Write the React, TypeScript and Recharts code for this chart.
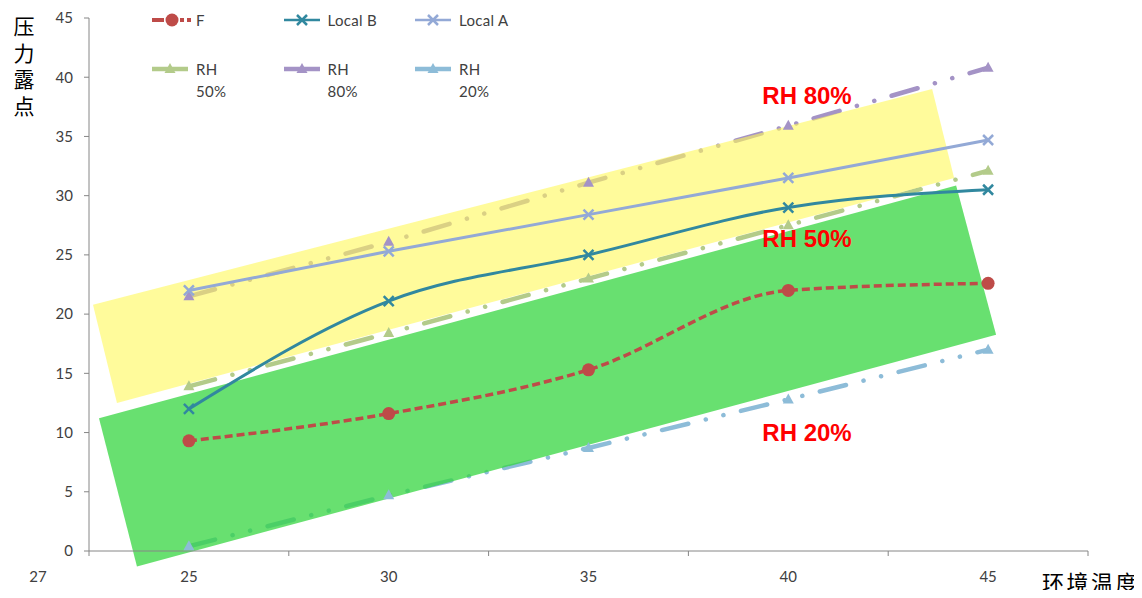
import { LineChart, Line, XAxis, YAxis, Legend, ReferenceArea } from "recharts";

// ambient temperature categories and dew point readings
const temps = [25, 30, 35, 40, 45];
const fValues = [9.3, 11.6, 15.3, 22.0, 22.6];
const localBValues = [12.0, 21.1, 25.0, 29.0, 30.5];
const localAValues = [22.0, 25.3, 28.4, 31.5, 34.7];
const rh50Values = [13.9, 18.4, 23.0, 27.5, 32.1];
const rh80Values = [21.5, 26.1, 31.1, 35.9, 40.8];
const rh20Values = [0.4, 4.7, 8.7, 12.8, 17.0];
const yTicks = [0, 5, 10, 15, 20, 25, 30, 35, 40, 45];

// tilted zones, corners given as [temperature, dew point]
const yellowZone = [[22.6, 20.8], [43.6, 39.0], [44.15, 31.5], [23.2, 12.5]];
const greenZone = [[22.75, 11.2], [44.2, 30.85], [45.2, 18.25], [23.7, -1.3]];
const zoneLabels = [
    { text: "RH 80%", t: 39.35, v: 38.4 },
    { text: "RH 50%", t: 39.35, v: 26.3 },
    { text: "RH 20%", t: 39.35, v: 10.0 },
];

const HALF = 2.5;
const xDomain = [temps[0] - HALF, temps[temps.length - 1] + HALF];
const boundaries = [...temps.map((t) => t - HALF), temps[temps.length - 1] + HALF];
const xTicks = [...boundaries, ...temps].sort((a, b) => a - b);

const data = temps.map((t, i) => ({
    t,
    F: fValues[i],
    "Local B": localBValues[i],
    "Local A": localAValues[i],
    "RH 50%": rh50Values[i],
    "RH 80%": rh80Values[i],
    "RH 20%": rh20Values[i],
}));

const FONT = "Lato, 'Open Sans', sans-serif";
const AXIS = "#868686";
const TEXT = "#404040";

const COLORS = {
    F: "#BE4B48",
    localB: "#31889F",
    localA: "#93A9D6",
    rh50: "#B3CB8A",
    rh80: "#A493C6",
    rh20: "#8DBCD8",
};

const RH_DASH = "27 18 0.1 18 0.1 18";

type Marker = "circle" | "cross" | "triangle";

function drawMarker(kind: Marker, cx: number, cy: number, color: string, key?: string) {
    if (kind === "circle") return <circle key={key} cx={cx} cy={cy} r={6.5} fill={color} />;
    if (kind === "cross")
        return (
            <path
                key={key}
                d={`M${cx - 5},${cy - 5}L${cx + 5},${cy + 5}M${cx - 5},${cy + 5}L${cx + 5},${cy - 5}`}
                stroke={color}
                strokeWidth={2.5}
                fill="none"
            />
        );
    return <path key={key} d={`M${cx},${cy - 6}L${cx + 5.5},${cy + 4}L${cx - 5.5},${cy + 4}Z`} fill={color} />;
}

const dotFor = (kind: Marker, color: string) => (p: any) =>
    drawMarker(kind, p.cx, p.cy, color, `${kind}-${p.index}-${color}`);

const legendItems: { name: string; color: string; marker: Marker; dash?: string; width: number }[] = [
    { name: "F", color: COLORS.F, marker: "circle", dash: "8 4", width: 3.5 },
    { name: "Local B", color: COLORS.localB, marker: "cross", width: 2.5 },
    { name: "Local A", color: COLORS.localA, marker: "cross", width: 2.5 },
    { name: "RH 50%", color: COLORS.rh50, marker: "triangle", width: 4.5 },
    { name: "RH 80%", color: COLORS.rh80, marker: "triangle", width: 4.5 },
    { name: "RH 20%", color: COLORS.rh20, marker: "triangle", width: 4.5 },
];

function LegendContent() {
    return (
        <div style={{ position: "relative", height: 0 }}>
            {legendItems.map((it, i) => {
                const col = i % 3;
                const row = Math.floor(i / 3);
                return (
                    <div
                        key={it.name}
                        style={{
                            position: "absolute",
                            left: col * 131.5,
                            top: row * 49,
                            display: "flex",
                            alignItems: "flex-start",
                            fontFamily: FONT,
                            fontSize: 15,
                            letterSpacing: 0.3,
                            color: TEXT,
                            lineHeight: "22px",
                        }}
                    >
                        <svg width={44} height={22} style={{ display: "block" }}>
                            {it.dash ? (
                                <g>
                                    <line x1={2} x2={14} y1={11} y2={11} stroke={it.color} strokeWidth={4} />
                                    <line x1={30} x2={42} y1={11} y2={11} stroke={it.color} strokeWidth={4} strokeDasharray="4 3" />
                                </g>
                            ) : (
                                <line x1={2} x2={38} y1={11} y2={11} stroke={it.color} strokeWidth={it.width} />
                            )}
                            {drawMarker(it.marker, it.dash ? 22 : 20, 11, it.color)}
                        </svg>
                        <span style={{ marginLeft: 2, width: row === 1 ? 38 : 72, textAlign: "left" }}>
                            {it.name}
                        </span>
                    </div>
                );
            })}
        </div>
    );
}

function XTick(props: any) {
    const { x, y, payload } = props;
    const v = payload.value;
    if (temps.includes(v)) {
        return (
            <text x={x} y={y + 31} textAnchor="middle" fontFamily={FONT} fontSize={15} fill={TEXT}>
                {v}
            </text>
        );
    }
    return <line x1={x} x2={x} y1={y} y2={y + 5} stroke={AXIS} />;
}

// zones drawn over the full plot rectangle, mapped from data units to pixels
function Zones(p: any) {
    const { x, y, width, height } = p;
    const px = (t: number) => x + ((t - xDomain[0]) / (xDomain[1] - xDomain[0])) * width;
    const py = (v: number) => y + height - (v / 45) * height;
    const pts = (poly: number[][]) => poly.map(([t, v]) => `${px(t)},${py(v)}`).join(" ");
    return (
        <g>
            <polygon points={pts(yellowZone)} fill="#FFF858" fillOpacity={0.6} />
            <polygon points={pts(greenZone)} fill="#36D640" fillOpacity={0.75} />
            {zoneLabels.map((l) => (
                <text
                    key={l.text}
                    x={px(l.t)}
                    y={py(l.v) + 8}
                    fontFamily="'Liberation Sans', Arial, sans-serif"
                    fontWeight="bold"
                    fontSize={24}
                    fill="#FF0000"
                >
                    {l.text}
                </text>
            ))}
            <text x={x - 51} y={y + height + 31} textAnchor="middle" fontFamily={FONT} fontSize={15} fill={TEXT}>
                27
            </text>
        </g>
    );
}

// vertical title: one glyph per line
function YTitle(props: any) {
    const vb = props.viewBox;
    const chars = "压力露点".split("");
    return (
        <text
            x={vb.x + 24}
            y={vb.y + 16}
            textAnchor="middle"
            fontFamily="'Noto Sans CJK SC', sans-serif"
            fontSize={21}
            fill="#000"
        >
            {chars.map((c, i) => (
                <tspan key={c} x={vb.x + 24} dy={i === 0 ? 0 : 26.7}>
                    {c}
                </tspan>
            ))}
        </text>
    );
}

function XTitle(props: any) {
    const vb = props.viewBox;
    return (
        <text
            x={vb.x + vb.width - 46}
            y={vb.y + 40}
            fontFamily="'Noto Sans CJK SC', sans-serif"
            fontSize={22}
            letterSpacing={2.5}
            fill="#000"
        >
            环境温度
        </text>
    );
}

export default function App() {
    return (
        <div style={{ margin: -8, width: 1142, height: 598, background: "#fff" }}>
            <LineChart width={1142} height={598} data={data} margin={{ top: 18, right: 54, bottom: 0, left: 0 }}>
                <XAxis
                    dataKey="t"
                    type="number"
                    domain={xDomain}
                    ticks={xTicks}
                    interval={0}
                    tick={<XTick />}
                    tickLine={false}
                    tickSize={0}
                    tickMargin={0}
                    height={47}
                    stroke={AXIS}
                    label={<XTitle />}
                />
                <YAxis
                    domain={[0, 45]}
                    ticks={yTicks}
                    interval={0}
                    width={89}
                    stroke={AXIS}
                    tickSize={5}
                    tickMargin={11}
                    tick={{ fill: TEXT, fontSize: 15, fontFamily: FONT }}
                    label={<YTitle />}
                />
                <Legend content={<LegendContent />} verticalAlign="top" wrapperStyle={{ top: 9, left: 150, width: 420 }} />
                {/* RH reference curves sit under the tinted zones */}
                <Line dataKey="RH 50%" zIndex={400} stroke={COLORS.rh50} strokeWidth={4.5} strokeDasharray={RH_DASH} strokeLinecap="round" dot={dotFor("triangle", COLORS.rh50)} isAnimationActive={false} />
                <Line dataKey="RH 80%" zIndex={400} stroke={COLORS.rh80} strokeWidth={4.5} strokeDasharray={RH_DASH} strokeLinecap="round" dot={dotFor("triangle", COLORS.rh80)} isAnimationActive={false} />
                <Line dataKey="RH 20%" zIndex={400} stroke={COLORS.rh20} strokeWidth={4.5} strokeDasharray={RH_DASH} strokeLinecap="round" dot={dotFor("triangle", COLORS.rh20)} isAnimationActive={false} />
                <ReferenceArea zIndex={450} x1={xDomain[0]} x2={xDomain[1]} y1={0} y2={45} ifOverflow="visible" shape={<Zones />} />
                <Line dataKey="Local A" zIndex={500} stroke={COLORS.localA} strokeWidth={3} dot={dotFor("cross", COLORS.localA)} isAnimationActive={false} />
                <Line type="monotone" dataKey="Local B" zIndex={500} stroke={COLORS.localB} strokeWidth={3} dot={dotFor("cross", COLORS.localB)} isAnimationActive={false} />
                <Line type="monotone" dataKey="F" zIndex={500} stroke={COLORS.F} strokeWidth={3.5} strokeDasharray="8 4" dot={dotFor("circle", COLORS.F)} isAnimationActive={false} />
            </LineChart>
        </div>
    );
}
